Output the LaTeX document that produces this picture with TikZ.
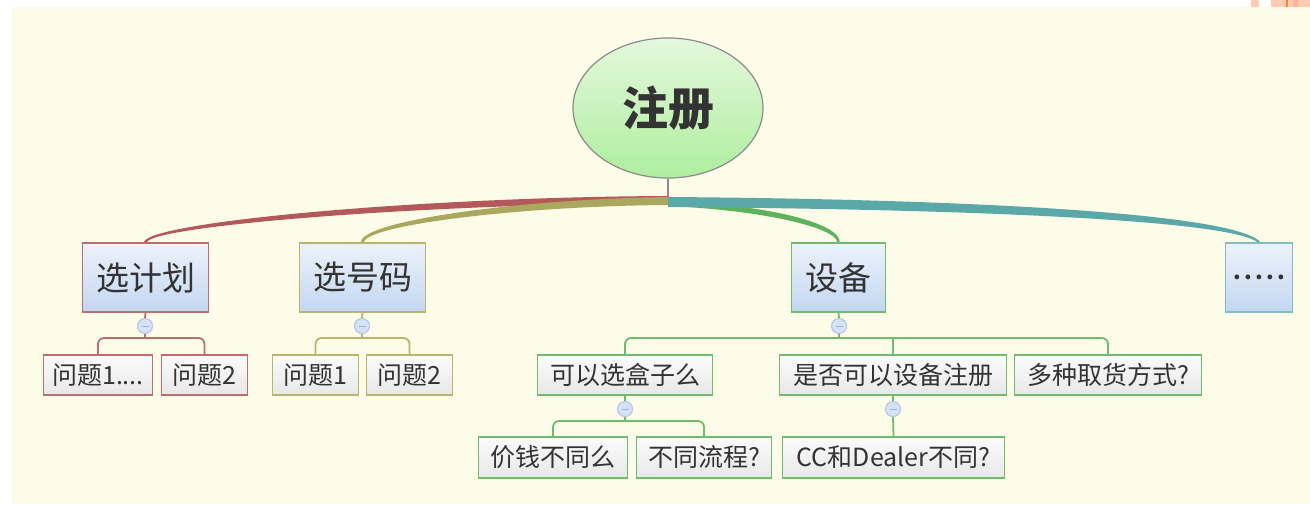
\documentclass[tikz,border=0pt]{standalone}
\usepackage{fontspec}
\setmainfont{Noto Sans CJK SC}
\usetikzlibrary{calc,shapes.geometric}
\definecolor{bg}{HTML}{FDFCE9}
\definecolor{rootT}{HTML}{E5F8DD}
\definecolor{rootB}{HTML}{AEEE9F}
\definecolor{rootline}{HTML}{8C8C8C}
\definecolor{lT}{HTML}{EDF2FB}
\definecolor{lB}{HTML}{C3D7F1}
\definecolor{kidT}{HTML}{FBFBFB}
\definecolor{kidB}{HTML}{E8E8E8}
\definecolor{txt}{HTML}{333333}
\definecolor{redbr}{HTML}{B35959}
\definecolor{redbox}{HTML}{C06C6C}
\definecolor{olivebr}{HTML}{AAA85F}
\definecolor{olivebox}{HTML}{B8B66A}
\definecolor{greenbr}{HTML}{5DB25D}
\definecolor{greenbox}{HTML}{6DBD6D}
\definecolor{tealbr}{HTML}{5BA8A8}
\definecolor{tealbox}{HTML}{7EC0C2}
\definecolor{knobfill}{HTML}{D5E2F7}
\definecolor{knobline}{HTML}{AEC5E8}
\definecolor{knobminus}{HTML}{9DB3D6}
\definecolor{orgL}{HTML}{FFCBB5}
\definecolor{orgM}{HTML}{FDB396}
\definecolor{orgD}{HTML}{F7883F}
\tikzset{
  rootnode/.style={ellipse, draw=rootline, line width=1.2pt, top color=rootT, bottom color=rootB,
    minimum width=190pt, minimum height=140pt, inner sep=0pt,
    font=\fontsize{46}{50}\selectfont\bfseries, text=txt},
  topicbox/.style={draw=#1, line width=1.8pt, top color=lT, bottom color=lB,
    minimum height=69pt, inner sep=0pt, font=\fontsize{33}{36}\selectfont, text=txt},
  kidbox/.style={draw=#1, line width=1.8pt, top color=kidT, bottom color=kidB,
    minimum height=40pt, inner sep=0pt, font=\fontsize{25}{28}\selectfont, text=txt},
  knob/.style={circle, draw=knobline, fill=knobfill, line width=1pt, minimum size=15pt, inner sep=0pt,
    path picture={\draw[knobminus, line width=1pt]
      ([xshift=-3.5pt]path picture bounding box.center) -- ([xshift=3.5pt]path picture bounding box.center);}},
  conn/.style={draw=#1, line width=1.8pt}
}
\begin{document}
\begin{tikzpicture}[x=1pt,y=-1pt]
\useasboundingbox (0,0) rectangle (1310,504);
\fill[white] (0,0) rectangle (1310,504);
\fill[bg] (12,7) rectangle (1310,504);
\fill[orgL] (1251,0) rectangle (1259,7);
\fill[orgL] (1271,0) rectangle (1310,7);
\fill[orgM] (1293,0) rectangle (1298,7);
\fill[orgD] (1286,0) rectangle (1288,7);

% root
\node[rootnode] (root) at (668,108) {注册};
\coordinate (hub) at (668,200);
\draw[rootline, line width=1.5pt] (root.south) -- (hub);

% level 1
\node[topicbox=redbox, minimum width=126pt] (A) at (145.5,277.5) {选计划};
\node[topicbox=olivebox, minimum width=126pt] (B) at (362.5,277.5) {选号码};
\node[topicbox=greenbox, minimum width=94pt] (C) at (838.5,277.5) {设备};
\node[topicbox=tealbox, minimum width=67pt, font=\fontsize{22}{24}\selectfont\bfseries\addfontfeature{LetterSpace=15}] (D) at (1259,277.5) {.....};

% branches
\fill[redbr] ($(hub)+(0,-4)$) .. controls (420,197) and (148,222) .. ($(A.north)+(-1.5,0)$)
  -- ($(A.north)+(1.5,0)$) .. controls (153,226) and (420,204) .. ($(hub)+(0,3)$) -- cycle;
\fill[olivebr] ($(hub)+(0,-3)$) .. controls (520,199) and (361,221) .. ($(B.north)+(-1.5,0)$)
  -- ($(B.north)+(1.5,0)$) .. controls (367,225) and (520,206) .. ($(hub)+(0,5)$) -- cycle;
\fill[greenbr] ($(hub)+(0,1)$) .. controls (760,204) and (840,222) .. ($(C.north)+(1.2,0)$)
  -- ($(C.north)+(-1.2,0)$) .. controls (835,227) and (760,210) .. ($(hub)+(0,6)$) -- cycle;
\fill[tealbr] ($(hub)+(0,-3)$) .. controls (950,199) and (1233,212) .. ($(D.north)+(1.5,0)$)
  -- ($(D.north)+(-1.5,0)$) .. controls (1226,219) and (950,209) .. ($(hub)+(0,7)$) -- cycle;

% level 2
\node[kidbox=redbox, minimum width=109pt] (a1) at (98,375) {问题1....};
\node[kidbox=redbox, minimum width=86pt] (a2) at (204.5,375) {问题2};
\node[kidbox=olivebox, minimum width=86pt] (b1) at (315.5,375) {问题1};
\node[kidbox=olivebox, minimum width=86pt] (b2) at (409.5,375) {问题2};
\node[kidbox=greenbox, minimum width=175pt] (c1) at (625,375) {可以选盒子么};
\node[kidbox=greenbox, minimum width=227pt] (c2) at (893,375) {是否可以设备注册};
\node[kidbox=greenbox, minimum width=187pt] (c3) at (1108,375) {多种取货方式?};

% level 3
\node[kidbox=greenbox, minimum width=149pt, minimum height=41pt] (d1) at (553,457.5) {价钱不同么};
\node[kidbox=greenbox, minimum width=135pt, minimum height=41pt] (d2) at (704,457.5) {不同流程?};
\node[kidbox=greenbox, minimum width=222pt, minimum height=41pt] (e1) at (893.5,457.5) {CC和Dealer不同?};

% knobs
\node[knob] (kA) at (145,326) {};
\node[knob] (kB) at (362,326) {};
\node[knob] (kC) at (839,326) {};
\node[knob] (kc1) at (625,409) {};
\node[knob] (kc2) at (893,409) {};
\coordinate (jA) at ($(kA.south)+(0,4)$);
\coordinate (jB) at ($(kB.south)+(0,4)$);
\coordinate (jC) at ($(kC.south)+(0,4)$);
\coordinate (jc1) at ($(kc1.south)+(0,4)$);

% connectors
\draw[conn=redbox] (A.south) -- (kA.north);
\draw[conn=redbox] (kA.south) -- (jA);
\draw[conn=redbox, rounded corners=6pt] (a1.north) |- (jA) -| (a2.north);

\draw[conn=olivebox] (B.south) -- (kB.north);
\draw[conn=olivebox] (kB.south) -- (jB);
\draw[conn=olivebox, rounded corners=6pt] (b1.north) |- (jB) -| (b2.north);

\draw[conn=greenbox] (C.south) -- (kC.north);
\draw[conn=greenbox] (kC.south) -- (jC);
\draw[conn=greenbox, rounded corners=6pt] (c1.north) |- (jC) -| (c3.north);
\draw[conn=greenbox] (c2.north) -- (c2.north |- jC);

\draw[conn=greenbox] (c1.south) -- (kc1.north);
\draw[conn=greenbox] (kc1.south) -- (jc1);
\draw[conn=greenbox, rounded corners=6pt] (d1.north) |- (jc1) -| (d2.north);

\draw[conn=greenbox] (c2.south) -- (kc2.north);
\draw[conn=greenbox] (kc2.south) -- (e1.north);
\end{tikzpicture}
\end{document}
